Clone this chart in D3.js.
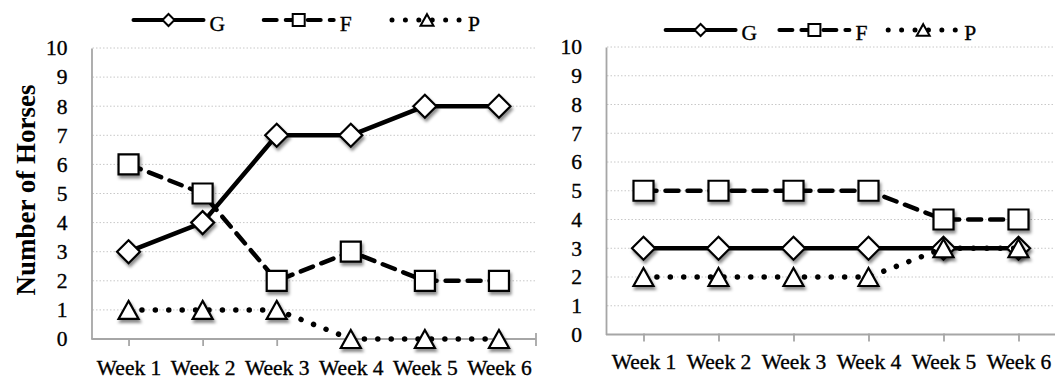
<!DOCTYPE html>
<html>
<head>
<meta charset="utf-8">
<script src="https://cdn.jsdelivr.net/npm/d3@7"></script>
<style>
  html, body { margin: 0; padding: 0; background: #fff; }
  svg { display: block; }
  text { font-family: "Liberation Serif", "Times New Roman", serif; fill: #000; }
  .lbl { stroke: #000; stroke-width: 0.35px; }
</style>
</head>
<body>
<svg id="chart" width="1055" height="380"></svg>
<script>
// ---- data ----
const weeks = ["Week 1", "Week 2", "Week 3", "Week 4", "Week 5", "Week 6"];
const yTicks = [0, 1, 2, 3, 4, 5, 6, 7, 8, 9, 10];
const seriesNames = ["G", "F", "P"];

const leftG = [3, 4, 7, 7, 8, 8];
const leftF = [6, 5, 2, 3, 2, 2];
const leftP = [1, 1, 1, 0, 0, 0];

const rightG = [3, 3, 3, 3, 3, 3];
const rightF = [5, 5, 5, 5, 4, 4];
const rightP = [2, 2, 2, 2, 3, 3];

const yTitle = "Number of Horses";

// ---- styles ----
const styles = {
  G: { dash: null, width: 4.5, marker: "diamond" },
  F: { dash: "13,9", width: 4.5, marker: "square" },
  P: { dash: "0.01,13.4", width: 5.5, marker: "triangle" }
};
const labelFont = '"Liberation Serif", serif';
const labelSize = "21.5px";

const svg = d3.select("#chart");
const defs = svg.append("defs");
const flt = defs.append("filter").attr("id", "shadow")
  .attr("x", "-50%").attr("y", "-50%").attr("width", "200%").attr("height", "200%");
flt.append("feDropShadow").attr("dx", 1.5).attr("dy", 3).attr("stdDeviation", 1.6)
  .attr("flood-color", "#000").attr("flood-opacity", 0.45);

function markerPath(type, s) {
  if (type === "diamond") return `M0,${-s}L${s},0L0,${s}L${-s},0Z`;
  if (type === "square") return `M${-s},${-s}H${s}V${s}H${-s}Z`;
  const h = s * 0.9;
  return `M0,${-h}L${s},${h}L${-s},${h}Z`;
}
const markerSize = { diamond: 11.5, square: 10, triangle: 10 };
const legendMarkerSize = { diamond: 6, square: 6, triangle: 6.5 };

function panel(cfg) {
  const g = svg.append("g");
  const x = d3.scalePoint().domain(weeks).range([cfg.x0, cfg.x1]).padding(0.5);
  const y = d3.scaleLinear().domain([0, 10]).range([cfg.y0, cfg.y1]);

  // gridlines
  g.append("g").selectAll("line").data(yTicks.filter(d => d > 0)).join("line")
    .attr("x1", cfg.x0 + 1).attr("x2", cfg.x1)
    .attr("y1", d => y(d)).attr("y2", d => y(d))
    .attr("stroke", "#c8c8c8").attr("stroke-width", 1).attr("stroke-dasharray", "1.5,2");

  // y axis
  const yAxis = d3.axisLeft(y).tickValues(yTicks).tickSize(0).tickPadding(24);
  const ya = g.append("g").attr("transform", `translate(${cfg.x0},0)`).call(yAxis);
  ya.attr("font-family", null).attr("font-size", null);
  ya.select(".domain").attr("stroke", "#a6a6a6").attr("stroke-width", 1.8);
  ya.selectAll("text").attr("class", "lbl")
    .style("font-family", labelFont).style("font-size", labelSize).attr("fill", "#000");

  // x axis
  const xAxis = d3.axisBottom(x).tickSize(7).tickPadding(0).tickSizeOuter(0);
  const xa = g.append("g").attr("transform", `translate(0,${cfg.y0})`).call(xAxis);
  xa.attr("font-family", null).attr("font-size", null);
  xa.select(".domain").attr("stroke", "#a6a6a6").attr("stroke-width", 1.8)
    .attr("d", `M${cfg.x0},0H${cfg.x1}`);
  xa.selectAll(".tick line").attr("stroke", "#a6a6a6").attr("stroke-width", 1.8).attr("y1", -1);
  xa.selectAll(".tick text").attr("class", "lbl").attr("y", cfg.xLabelDy).attr("dy", 0)
    .style("font-family", labelFont).style("font-size", labelSize).attr("fill", "#000");
  if (cfg.endTick) {
    xa.append("line").attr("x1", cfg.x1).attr("x2", cfg.x1).attr("y1", -6).attr("y2", 7)
      .attr("stroke", "#a6a6a6").attr("stroke-width", 1.8);
  }

  // series
  const line = d3.line().x((d, i) => x(weeks[i])).y(d => y(d));
  cfg.series.forEach((vals, si) => {
    const name = seriesNames[si];
    const st = styles[name];
    g.append("path").datum(vals).attr("d", line)
      .attr("fill", "none").attr("stroke", "#000").attr("stroke-width", st.width)
      .attr("stroke-linecap", "round").attr("stroke-linejoin", "round")
      .attr("stroke-dasharray", st.dash);
    g.append("g").selectAll("path").data(vals).join("path")
      .attr("transform", (d, i) => `translate(${x(weeks[i])},${y(d)})`)
      .attr("d", markerPath(st.marker, markerSize[st.marker]))
      .attr("fill", "#fff").attr("stroke", "#000").attr("stroke-width", 2.2)
      .attr("stroke-linejoin", "miter")
      .attr("filter", "url(#shadow)");
  });

  // legend
  const lg = g.append("g");
  cfg.legend.forEach((lx, si) => {
    const name = seriesNames[si];
    const st = styles[name];
    lg.append("line").attr("x1", lx).attr("x2", lx + 70).attr("y1", cfg.legendY).attr("y2", cfg.legendY)
      .attr("stroke", "#000").attr("stroke-width", st.width - 0.5)
      .attr("stroke-linecap", "round").attr("stroke-dasharray", st.dash);
    lg.append("path").attr("transform", `translate(${lx + 35},${cfg.legendY})`)
      .attr("d", markerPath(st.marker, legendMarkerSize[st.marker]))
      .attr("fill", "#fff").attr("stroke", "#000").attr("stroke-width", 2);
    lg.append("text").attr("class", "lbl").attr("x", lx + 76).attr("y", cfg.legendTextY)
      .style("font-family", labelFont).style("font-size", labelSize).text(name);
  });
}

panel({
  x0: 91.5, x1: 536, y0: 339, y1: 48, xLabelDy: 36, endTick: true,
  series: [leftG, leftF, leftP],
  legend: [133.5, 263.7, 392], legendY: 20, legendTextY: 31
});
panel({
  x0: 606, x1: 1056, y0: 334.5, y1: 47, xLabelDy: 34.5, endTick: false,
  series: [rightG, rightF, rightP],
  legend: [665.6, 779.4, 888.2], legendY: 30, legendTextY: 39.5
});

// y axis title (left panel)
svg.append("text")
  .attr("transform", "translate(35,190) rotate(-90)")
  .attr("text-anchor", "middle")
  .style("font-family", labelFont)
  .style("font-size", "27px").style("font-weight", "bold")
  .text(yTitle);
</script>
</body>
</html>
